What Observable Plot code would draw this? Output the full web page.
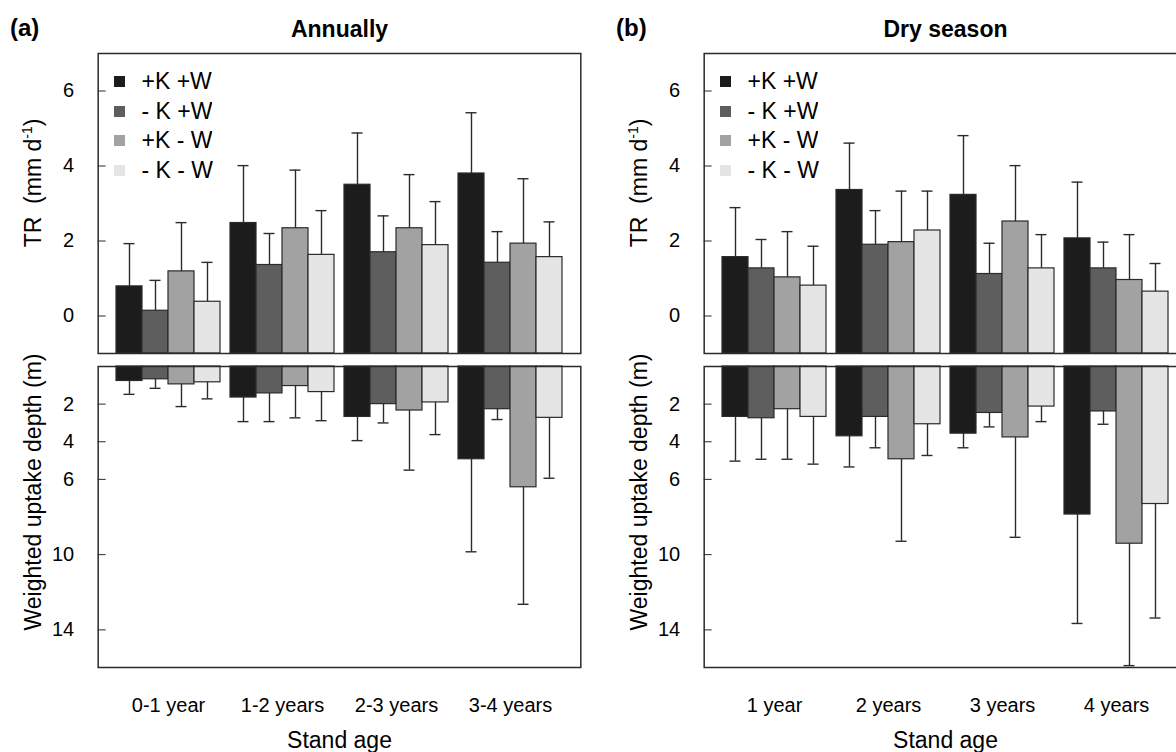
<!DOCTYPE html>
<html>
<head>
<meta charset="utf-8">
<script src="https://cdn.jsdelivr.net/npm/d3@7"></script>
<script src="https://cdn.jsdelivr.net/npm/@observablehq/plot@0.6"></script>
<style>
html, body { margin: 0; padding: 0; background: #fff; overflow: hidden; }
#root { position: relative; width: 1176px; height: 752px; overflow: hidden; font-family: "Liberation Sans", Arial, Helvetica, sans-serif; color: #000; background: #fff; }
.tag { font-weight: bold; font-size: 24px; line-height: 24px; white-space: nowrap; }
.title { font-weight: bold; font-size: 23px; line-height: 23px; white-space: nowrap; transform: translateX(-50%); }
.ylab { font-size: 23px; line-height: 23px; white-space: nowrap; transform: translate(-50%, -50%) rotate(-90deg); }
.ylab sup { font-size: 14px; line-height: 0; }
.lg-swatches { font-family: "Liberation Sans", Arial, Helvetica, sans-serif !important; font-size: 23px !important; margin: 0 !important; color: #000; }
.lg-swatch { height: 29.5px; padding-bottom: 0 !important; }
.lg-swatch > svg { margin-right: 16.5px !important; }
</style>
</head>
<body>
<div id="root"></div>
<script>
// ---- data -------------------------------------------------------------
const treatments = ["+K +W", "- K +W", "+K - W", "- K - W"];
const barColors = ["#1c1c1c", "#5e5e5e", "#a2a2a2", "#e5e5e5"];
const agesAnnual = ["0-1 year", "1-2 years", "2-3 years", "3-4 years"];
const agesDry = ["1 year", "2 years", "3 years", "4 years"];
const trTicks = [0, 2, 4, 6];
const depthTicks = [2, 4, 6, 10, 14];
const trDomain = [-1, 7];
const depthDomain = [0, 16];

// rows = stand age, columns = treatments (same order as `treatments`)
const trAnnualMean = [[0.79, 0.14, 1.19, 0.38], [2.48, 1.36, 2.34, 1.63], [3.50, 1.70, 2.34, 1.89], [3.80, 1.42, 1.93, 1.57]];
const trAnnualSd   = [[1.14, 0.81, 1.30, 1.05], [1.53, 0.84, 1.55, 1.18], [1.38, 0.97, 1.43, 1.16], [1.62, 0.83, 1.73, 0.94]];
const depthAnnualMean = [[0.77, 0.68, 0.95, 0.84], [1.65, 1.43, 1.04, 1.36], [2.68, 2.00, 2.34, 1.91], [4.93, 2.27, 6.42, 2.73]];
const depthAnnualSd   = [[0.71, 0.48, 1.18, 0.88], [1.28, 1.50, 1.69, 1.52], [1.26, 1.00, 3.17, 1.71], [4.92, 0.55, 6.22, 3.21]];
const trDryMean = [[1.57, 1.27, 1.03, 0.81], [3.36, 1.90, 1.97, 2.28], [3.23, 1.12, 2.52, 1.27], [2.07, 1.27, 0.96, 0.65]];
const trDrySd   = [[1.32, 0.77, 1.22, 1.05], [1.25, 0.91, 1.36, 1.05], [1.58, 0.82, 1.49, 0.90], [1.50, 0.70, 1.21, 0.75]];
const depthDryMean = [[2.68, 2.75, 2.27, 2.68], [3.71, 2.68, 4.93, 3.07], [3.57, 2.47, 3.77, 2.13], [7.87, 2.39, 9.42, 7.31]];
const depthDrySd   = [[2.35, 2.18, 2.66, 2.51], [1.63, 1.64, 4.36, 1.66], [0.75, 0.74, 5.31, 0.80], [5.79, 0.68, 6.48, 6.06]];

// ---- helpers ----------------------------------------------------------
const FONT = '"Liberation Sans", Arial, Helvetica, sans-serif';
const INK = "#2b2b2b";
const ML = 97, MR = 20, W = 601;
const FX_INNER = 0.092, FX_OUTER = 0.16;

function toRows(ages, mean, sd) {
  const rows = [];
  ages.forEach((age, i) => treatments.forEach((t, j) => {
    rows.push({age, treatment: t, mean: mean[i][j], hi: mean[i][j] + sd[i][j]});
  }));
  return rows;
}

function subplot({rows, ages, yDomain, reverse, ticks, base, height, marginTop, marginBottom, bottomAxis}) {
  // distance from the frame's left edge to the first facet (same band layout as fx)
  const leftGap = d3.scaleBand().domain(ages).range([0, W - ML - MR])
    .paddingInner(FX_INNER).paddingOuter(FX_OUTER)(ages[0]);
  return Plot.plot({
    width: W, height, marginLeft: ML, marginRight: MR, marginTop, marginBottom,
    style: {fontFamily: FONT, fontSize: "20px", color: "#000", background: "transparent"},
    fx: {domain: ages, paddingInner: FX_INNER, paddingOuter: FX_OUTER, axis: null, label: null},
    x: {domain: treatments, padding: 0, axis: null},
    y: {domain: yDomain, reverse, axis: null},
    color: {domain: treatments, range: barColors},
    marks: [
      Plot.barY(rows, {fx: "age", x: "treatment", y1: () => base, y2: "mean", fill: "treatment", stroke: INK, strokeWidth: 1.2}),
      Plot.ruleX(rows, {fx: "age", x: "treatment", y1: "mean", y2: "hi", stroke: INK, strokeWidth: 1.4}),
      Plot.tickY(rows, {fx: "age", x: "treatment", y: "hi", insetLeft: 7.5, insetRight: 7.5, stroke: INK, strokeWidth: 1.4}),
      Plot.frame({facet: "super", insetLeft: -leftGap, insetRight: -leftGap, stroke: INK, strokeWidth: 1.5}),
      Plot.axisY(ticks, {anchor: "left", dx: -leftGap, tickSize: -8, tickPadding: 32, stroke: INK, label: null}),
      bottomAxis ? Plot.axisFx({anchor: "bottom", tickSize: 0, tickPadding: 30, label: null}) : null,
      bottomAxis ? Plot.text(["Stand age"], {facet: "super", frameAnchor: "bottom", lineAnchor: "top", dy: 64, fontSize: 23}) : null
    ]
  });
}

const root = document.getElementById("root");
function place(el, left, top) {
  el.style.position = "absolute";
  el.style.left = left + "px";
  el.style.top = top + "px";
  root.appendChild(el);
  return el;
}
function div(cls, html) {
  const d = document.createElement("div");
  d.className = cls;
  d.innerHTML = html;
  return d;
}

const panels = [
  {dx: 0, tag: "(a)", title: "Annually", ages: agesAnnual, trMean: trAnnualMean, trSd: trAnnualSd, dMean: depthAnnualMean, dSd: depthAnnualSd},
  {dx: 606, tag: "(b)", title: "Dry season", ages: agesDry, trMean: trDryMean, trSd: trDrySd, dMean: depthDryMean, dSd: depthDrySd}
];

for (const p of panels) {
  const topPlot = subplot({
    rows: toRows(p.ages, p.trMean, p.trSd), ages: p.ages, yDomain: trDomain, reverse: false,
    ticks: trTicks, base: trDomain[0], height: 355, marginTop: 53, marginBottom: 2, bottomAxis: false
  });
  place(topPlot, p.dx, 0);

  const bottomPlot = subplot({
    rows: toRows(p.ages, p.dMean, p.dSd), ages: p.ages, yDomain: depthDomain, reverse: true,
    ticks: depthTicks, base: depthDomain[0], height: 396, marginTop: 10, marginBottom: 85, bottomAxis: true
  });
  place(bottomPlot, p.dx, 356);

  const legend = Plot.legend({
    color: {type: "ordinal", domain: treatments, range: barColors},
    columns: 1, swatchSize: 11, className: "lg"
  });
  place(legend, p.dx + 114, 67);

  place(div("tag", p.tag), p.dx + 10, 16);
  place(div("title", p.title), p.dx + 339.5, 18);
  place(div("ylab", "TR&nbsp;&nbsp;(mm d<sup>-1</sup>)"), p.dx + 32.5, 182.5);
  place(div("ylab", "Weighted uptake depth (m)"), p.dx + 32.5, 492);
}
</script>
</body>
</html>
